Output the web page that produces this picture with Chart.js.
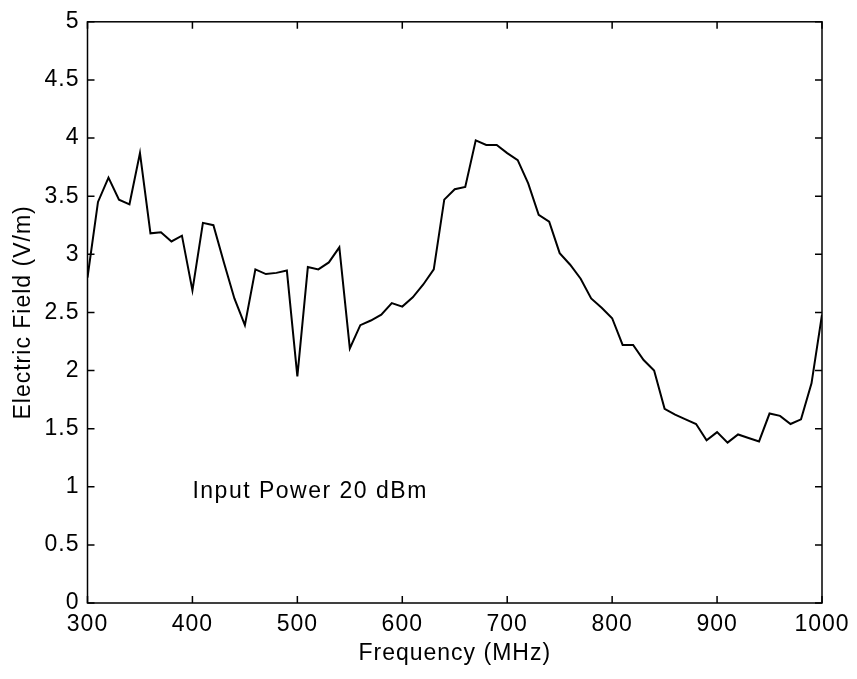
<!DOCTYPE html>
<html>
<head>
<meta charset="utf-8">
<script src="https://cdn.jsdelivr.net/npm/chart.js@4.4.1/dist/chart.umd.min.js"></script>
<style>
  html, body { margin: 0; padding: 0; background: #fff; }
  canvas { display: block; }
</style>
</head>
<body>
<canvas id="chart" width="857" height="679"></canvas>
<script>
// frequency samples every 10 MHz
var freqs = [];
for (var f = 300; f <= 1000; f += 10) freqs.push(f);

// electric field (V/m)
var field = [
    2.80, 3.45, 3.66, 3.47, 3.43, 3.87, 3.18, 3.19, 3.11, 3.16,
    2.69, 3.27, 3.25, 2.93, 2.62, 2.39, 2.87, 2.83, 2.84, 2.86,
    1.95, 2.89, 2.87, 2.93, 3.06, 2.19, 2.39, 2.43, 2.48, 2.58,
    2.55, 2.63, 2.74, 2.87, 3.47, 3.56, 3.58, 3.98, 3.94, 3.94,
    3.87, 3.81, 3.61, 3.34, 3.28, 3.01, 2.91, 2.79, 2.62, 2.54,
    2.45, 2.22, 2.22, 2.09, 2.00, 1.67, 1.62, 1.58, 1.54, 1.40,
    1.47, 1.38, 1.45, 1.42, 1.39, 1.63, 1.61, 1.54, 1.58, 1.89,
    2.48
];

var xTicks = [300, 400, 500, 600, 700, 800, 900, 1000];
var yTicks = [0, 0.5, 1, 1.5, 2, 2.5, 3, 3.5, 4, 4.5, 5];
var note = 'Input Power 20 dBm';
var notePos = {x: 400, y: 0.90};

var FONT = '"Liberation Sans", Arial, Helvetica, sans-serif';

var points = freqs.map(function (f, i) { return {x: f, y: field[i]}; });

// plain labels like matlab: 5 not 5.0, 1000 not 1,000
function plainLabel(v) { return String(v); }

// matlab style box with inward ticks on all four sides, plus the text note
var boxPlugin = {
    id: 'box',
    beforeDraw: function (chart) {
        chart.ctx.letterSpacing = '1px';
    },
    afterDraw: function (chart) {
        var ctx = chart.ctx;
        var a = chart.chartArea;
        var xs = chart.scales.x, ys = chart.scales.y;
        var len = 7;
        ctx.save();
        ctx.strokeStyle = '#000';
        ctx.lineWidth = 1.5;
        ctx.strokeRect(a.left, a.top, a.right - a.left, a.bottom - a.top);
        ctx.beginPath();
        xTicks.forEach(function (t) {
            var px = xs.getPixelForValue(t);
            ctx.moveTo(px, a.bottom); ctx.lineTo(px, a.bottom - len);
            ctx.moveTo(px, a.top); ctx.lineTo(px, a.top + len);
        });
        yTicks.forEach(function (t) {
            var py = ys.getPixelForValue(t);
            ctx.moveTo(a.left, py); ctx.lineTo(a.left + len, py);
            ctx.moveTo(a.right, py); ctx.lineTo(a.right - len, py);
        });
        ctx.stroke();

        ctx.fillStyle = '#000';
        ctx.font = '23px ' + FONT;
        ctx.letterSpacing = '1.5px';
        ctx.textAlign = 'left';
        ctx.textBaseline = 'alphabetic';
        ctx.fillText(note, xs.getPixelForValue(notePos.x), ys.getPixelForValue(notePos.y));
        ctx.restore();
    }
};

var ctx = document.getElementById('chart').getContext('2d');
var chart = new Chart(ctx, {
    type: 'line',
    data: {
        datasets: [{
            data: points,
            borderColor: '#000',
            borderWidth: 2,
            pointRadius: 0,
            tension: 0,
            fill: false
        }]
    },
    options: {
        responsive: false,
        animation: false,
        layout: {padding: {left: 0, right: 35, top: 19, bottom: 0}},
        plugins: {
            legend: {display: false},
            tooltip: {enabled: false}
        },
        scales: {
            x: {
                type: 'linear',
                min: 300,
                max: 1000,
                afterBuildTicks: function (s) { s.ticks = xTicks.map(function (v) { return {value: v}; }); },
                afterFit: function (s) { s.height = 76; },
                grid: {display: false, drawTicks: false},
                border: {display: false},
                ticks: {
                    color: '#000',
                    padding: 8,
                    maxRotation: 0,
                    callback: plainLabel,
                    font: {family: FONT, size: 23}
                },
                title: {
                    display: true,
                    text: 'Frequency (MHz)',
                    color: '#000',
                    font: {family: FONT, size: 23},
                    padding: {top: 0, bottom: 12}
                }
            },
            y: {
                min: 0,
                max: 5,
                afterBuildTicks: function (s) { s.ticks = yTicks.map(function (v) { return {value: v}; }); },
                afterFit: function (s) { s.width = 87.5; },
                grid: {display: false, drawTicks: false},
                border: {display: false},
                ticks: {
                    color: '#000',
                    padding: 8,
                    callback: plainLabel,
                    font: {family: FONT, size: 23}
                },
                title: {
                    display: true,
                    text: 'Electric Field (V/m)',
                    color: '#000',
                    font: {family: FONT, size: 23},
                    padding: {top: 10, bottom: 0}
                }
            }
        }
    },
    plugins: [boxPlugin]
});
</script>
</body>
</html>
